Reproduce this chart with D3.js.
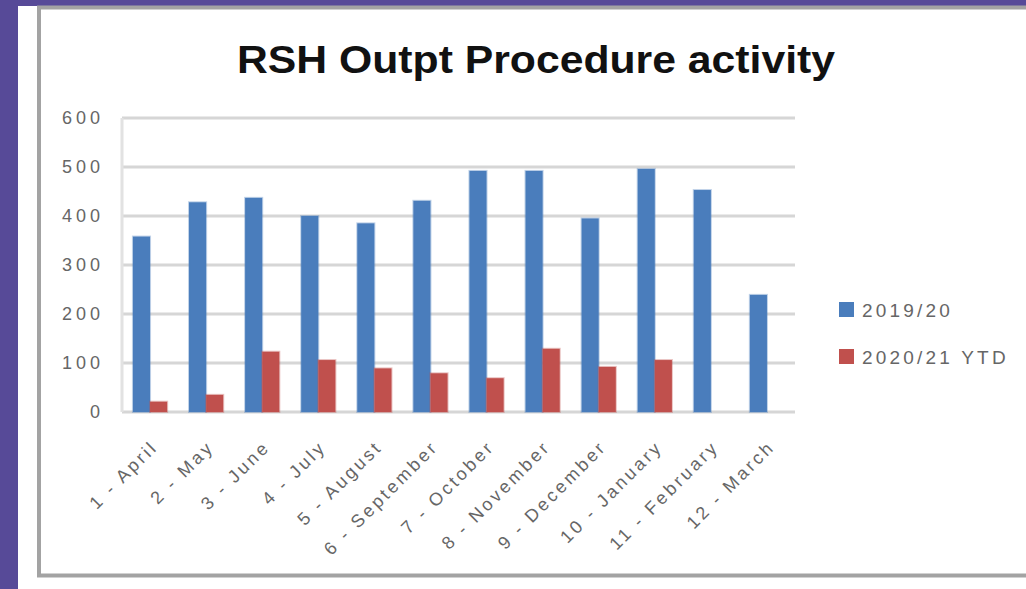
<!DOCTYPE html>
<html lang="en">
  <head>
    <meta charset="utf-8" />
    <title>RSH Outpt Procedure activity</title>
    <style>
      body { margin: 0; background: #ffffff; }
      svg text { font-family: "Liberation Sans", Arial, sans-serif; }
    </style>
  </head>
  <body>
    <div id="chart"></div>
    <script src="https://d3js.org/d3.v7.min.js"></script>
    <script>
      // data
      const months = [
        "1 - April", "2 - May", "3 - June", "4 - July", "5 - August",
        "6 - September", "7 - October", "8 - November", "9 - December",
        "10 - January", "11 - February", "12 - March"
      ];
      const seriesNames = ["2019/20", "2020/21 YTD"];
      const values1920 = [358, 428, 437, 400, 385, 431, 492, 492, 395, 496, 453, 239];
      const values2021 = [21, 35, 123, 106, 89, 79, 69, 129, 92, 106, null, null];
      const yTicks = [0, 100, 200, 300, 400, 500, 600];

      const width = 1026;
      const height = 589;
      const colors = ["#4a7dbc", "#c0504d"];

      const plot = { left: 122, right: 795, top: 118, bottom: 412 };

      const svg = d3
        .select("#chart")
        .append("svg")
        .attr("width", width)
        .attr("height", height);

      // purple frame + grey chart border
      svg.append("rect").attr("width", width).attr("height", height).attr("fill", "#574a98");
      svg.append("rect").attr("x", 18).attr("y", 6).attr("width", width - 18).attr("height", height - 6).attr("fill", "#ffffff");
      svg.append("rect")
        .attr("x", 39).attr("y", 7.5)
        .attr("width", width + 20).attr("height", 568)
        .attr("fill", "none")
        .attr("stroke", "#a3a3a3")
        .attr("stroke-width", 4);

      // title
      svg.append("text")
        .attr("x", 237)
        .attr("y", 73)
        .attr("font-size", 38)
        .attr("font-weight", "bold")
        .attr("fill", "#111")
        .attr("textLength", 598)
        .attr("lengthAdjust", "spacingAndGlyphs")
        .text("RSH Outpt Procedure activity");

      const x = d3.scaleBand()
        .domain(months)
        .range([plot.left, plot.right])
        .paddingInner(0.39)
        .paddingOuter(0.195);

      const xInner = d3.scaleBand()
        .domain(seriesNames)
        .range([0, x.bandwidth()]);

      const y = d3.scaleLinear()
        .domain([0, 600])
        .range([plot.bottom, plot.top]);

      // gridlines
      svg.append("g")
        .selectAll("line")
        .data(yTicks)
        .enter()
        .append("line")
        .attr("x1", plot.left)
        .attr("x2", plot.right)
        .attr("y1", d => y(d))
        .attr("y2", d => y(d))
        .attr("stroke", "#d6d6d6")
        .attr("stroke-width", 3);

      svg.append("line")
        .attr("x1", plot.left).attr("x2", plot.left)
        .attr("y1", plot.top).attr("y2", plot.bottom)
        .attr("stroke", "#e2e2e2")
        .attr("stroke-width", 3);

      // y axis
      const yAxis = svg.append("g")
        .attr("transform", `translate(${plot.left - 18},0)`)
        .call(d3.axisLeft(y).tickValues(yTicks).tickSize(0).tickPadding(0));
      yAxis.select(".domain").remove();
      yAxis.selectAll("text")
        .attr("font-size", 18)
        .attr("letter-spacing", 4)
        .attr("fill", "#666")
        .attr("font-family", "Liberation Sans, Arial, sans-serif");

      // bars
      const rows = months.map((m, i) => ({ month: m, vals: [values1920[i], values2021[i]] }));

      const groups = svg.append("g")
        .selectAll("g")
        .data(rows)
        .enter()
        .append("g")
        .attr("transform", d => `translate(${x(d.month)},0)`);

      groups.selectAll("rect")
        .data(d => d.vals.map((v, k) => ({ series: seriesNames[k], value: v, k: k })).filter(e => e.value != null))
        .enter()
        .append("rect")
        .attr("x", d => xInner(d.series))
        .attr("y", d => y(d.value))
        .attr("width", xInner.bandwidth())
        .attr("height", d => y(0) - y(d.value))
        .attr("fill", d => colors[d.k])
        .attr("stroke", d => colors[d.k])
        .attr("stroke-opacity", 0.35)
        .attr("stroke-width", 2);

      // x axis labels
      const xAxis = svg.append("g")
        .attr("transform", `translate(0,${plot.bottom})`)
        .call(d3.axisBottom(x).tickSize(0).tickPadding(0));
      xAxis.select(".domain").remove();
      xAxis.selectAll("text")
        .attr("font-size", 18)
        .attr("letter-spacing", 3)
        .attr("fill", "#666")
        .attr("font-family", "Liberation Sans, Arial, sans-serif")
        .attr("text-anchor", "end")
        .attr("dy", 0)
        .attr("transform", "translate(9,36) rotate(-45)");

      // legend
      const legend = svg.append("g")
        .selectAll("g")
        .data(seriesNames)
        .enter()
        .append("g")
        .attr("transform", (d, i) => `translate(839,${302 + i * 47})`);

      legend.append("rect")
        .attr("width", 15)
        .attr("height", 15)
        .attr("fill", (d, i) => colors[i]);

      legend.append("text")
        .attr("x", 23)
        .attr("y", 8)
        .attr("dy", "0.35em")
        .attr("font-size", 19)
        .attr("letter-spacing", 3.2)
        .attr("fill", "#666")
        .text(d => d);
    </script>
  </body>
</html>
